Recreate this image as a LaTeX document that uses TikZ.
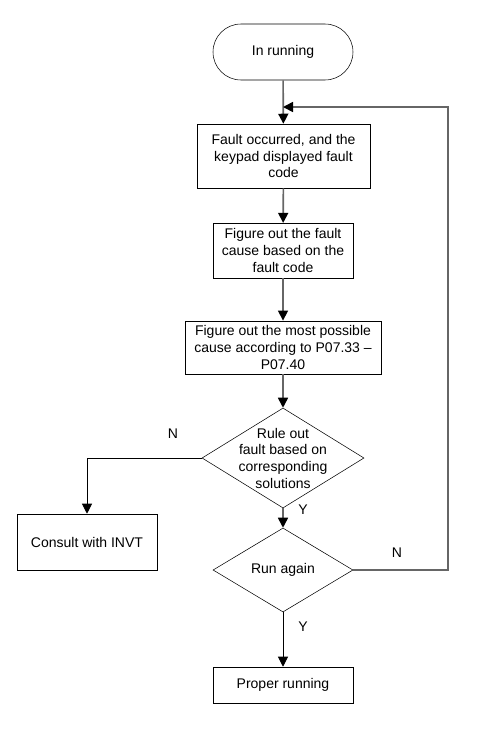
\documentclass[tikz,border=0pt]{standalone}
\usepackage{fontspec}
\setmainfont{Liberation Sans}
\usetikzlibrary{shapes.geometric,arrows.meta}

\begin{document}
\begin{tikzpicture}[x=0.75pt,y=-0.75pt,
    font=\fontsize{10.5}{12.5}\selectfont,
    box/.style={draw,thin,rectangle,align=center,inner sep=1pt},
    decision/.style={draw,thin,diamond,align=center,inner sep=-6pt,shape aspect=1.62},
    flow/.style={draw=black!60,line width=1.2pt,-{Triangle[length=7.5pt,width=7.5pt,color=black]}},
    thinflow/.style={draw,line width=0.7pt,-{Triangle[length=7.5pt,width=7.5pt]}}]

\useasboundingbox (0,0) rectangle (486,729);

\node[box,rounded corners=21pt,minimum width=105pt,minimum height=42pt] (B_run) at (283,52) {In running};
\node[box,minimum width=130pt,minimum height=48pt] (B_fault) at (283.5,156)
    {Fault occurred, and the\\keypad displayed fault\\code};
\node[box,minimum width=105pt,minimum height=41pt] (B_cause) at (283,250.5)
    {Figure out the fault\\cause based on the\\fault code};
\node[box,minimum width=147pt,minimum height=40pt] (B_possible) at (283,347.5)
    {Figure out the most possible\\cause according to P07.33 –\\P07.40};
\node[decision,minimum width=121.5pt,minimum height=75pt] (D_rule) at (283,458)
    {Rule out\\fault based on\\corresponding\\solutions};
\node[box,minimum width=105pt,minimum height=42pt] (B_consult) at (87,542) {Consult with INVT};
\node[decision,minimum width=105pt,minimum height=63pt] (D_again) at (283,570) {Run again};
\node[box,minimum width=105pt,minimum height=27pt] (B_proper) at (283,685) {Proper running};

\coordinate (P_merge) at (283,107);
\coordinate (P_loop) at (448,107);

\node (L_N1) at (173,434) {N};
\node (L_Y1) at (303,510) {Y};
\node (L_N2) at (397,553) {N};
\node (L_Y2) at (303,627) {Y};

\draw[flow] (B_run) -- (B_fault);
\draw[flow] (B_fault) -- (B_cause);
\draw[flow] (B_cause) -- (B_possible);
\draw[flow] (B_possible) -- (D_rule);
\draw[flow] (D_rule) -- (D_again);
\draw[thinflow] (D_rule.west) -| (B_consult.north);
\draw[thinflow] (D_again) -- (B_proper);
\draw[flow] (D_again.east) -| (P_loop) -- (P_merge);

\end{tikzpicture}
\end{document}
